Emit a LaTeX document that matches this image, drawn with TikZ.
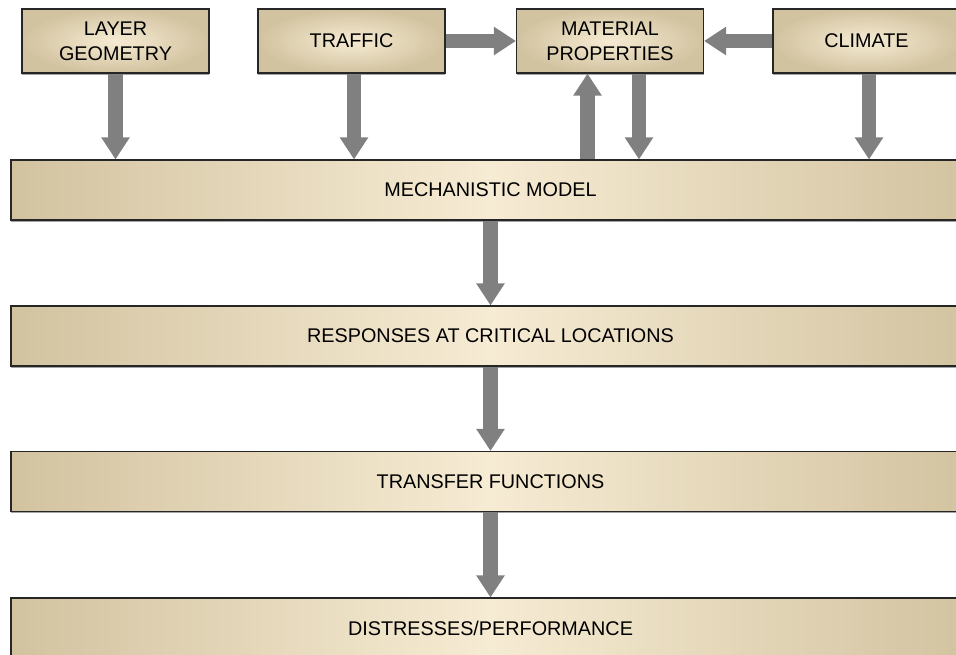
\documentclass[tikz,border=0pt]{standalone}
\usepackage{fontspec}
\setmainfont{Liberation Sans}
\usetikzlibrary{arrows.meta,shadows}

\definecolor{tanD}{HTML}{D2C3A0}
\definecolor{tanM}{HTML}{DDD0AF}
\definecolor{creamL}{HTML}{F6EBD3}
\definecolor{arrowgray}{HTML}{808080}

\tikzset{
  boxbase/.style={draw=black!85, line width=1.1pt, inner sep=0pt, align=center,
    font=\fontsize{19.8}{25}\selectfont,
    drop shadow={shadow xshift=0pt, shadow yshift=-1.6pt, fill=black!45, opacity=0.8}},
  inbox/.style={boxbase, minimum width=187pt, minimum height=64pt,
    inner color=creamL, outer color=tanD},
  stagebar/.style={boxbase, minimum width=959pt, minimum height=60pt,
    left color=tanD, right color=tanD, middle color=creamL},
  flow/.style={draw=arrowgray, line width=14.5pt,
    -{Triangle[width=27pt,length=22pt]}, arrowgray},
}

\begin{document}
\begin{tikzpicture}[x=1pt, y=-1pt]
  \useasboundingbox (0,0) rectangle (956,655);
  \clip (0,0) rectangle (956,655);

  % input boxes
  \node[inbox] (lg)  at (115.5,41) {LAYER\\GEOMETRY};
  \node[inbox] (tr)  at (351.5,41) {TRAFFIC};
  \node[inbox] (mat) at (610,41)   {MATERIAL\\PROPERTIES};
  \node[inbox] (cli) at (866.5,41) {CLIMATE};

  % stage bars
  \node[stagebar] (mech) at (490.5,190)   {MECHANISTIC MODEL};
  \node[stagebar] (resp) at (490.5,336)   {RESPONSES AT CRITICAL LOCATIONS};
  \node[stagebar] (tf)   at (490.5,481.5) {TRANSFER FUNCTIONS};
  \node[stagebar] (dist) at (490.5,628)   {DISTRESSES/PERFORMANCE};

  % inputs into the material properties box
  \draw[flow] (tr.east) -- (mat.west);
  \draw[flow] (cli.west) -- (mat.east);

  % inputs into the mechanistic model
  \draw[flow] (lg.south) -- (lg.south |- mech.north);
  \draw[flow] ([xshift=2.5pt]tr.south) -- ([xshift=2.5pt]tr.south |- mech.north);
  \draw[flow] ([xshift=29pt]mat.south) -- ([xshift=29pt]mat.south |- mech.north);
  \draw[flow] ([xshift=2.5pt]cli.south) -- ([xshift=2.5pt]cli.south |- mech.north);
  \draw[flow] ([xshift=-22.5pt]mat.south |- mech.north) -- ([xshift=-22.5pt]mat.south);

  % analysis chain
  \draw[flow] (mech.south) -- (resp.north);
  \draw[flow] (resp.south) -- (tf.north);
  \draw[flow] (tf.south) -- (dist.north);
\end{tikzpicture}
\end{document}
